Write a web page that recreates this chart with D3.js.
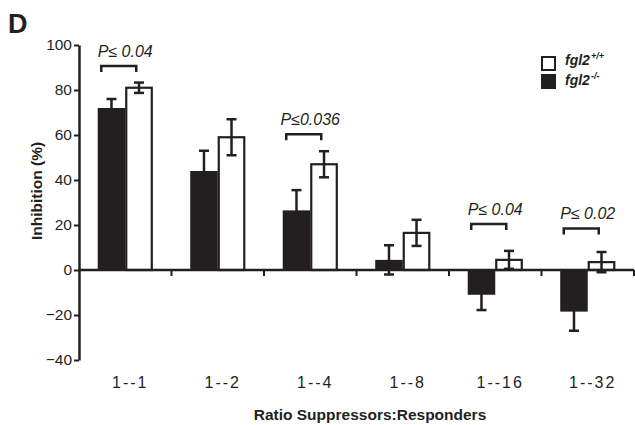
<!DOCTYPE html>
<html>
<head>
<meta charset="utf-8">
<script src="https://cdn.jsdelivr.net/npm/d3@7"></script>
<style>
  body { margin: 0; background: #fff; }
  text { font-family: "Liberation Sans", Arial, sans-serif; fill: #231f20; }
</style>
</head>
<body>
<script>
// data
const ratios = ['1--1', '1--2', '1--4', '1--8', '1--16', '1--32'];
const koMean = [72, 44, 26.5, 4.5, -11, -18.5];
const koErr = [4, 9, 9, 6.5, 6.8, 8.5];
const wtMean = [81, 59, 47, 16.5, 4.5, 3.5];
const wtErr = [2.3, 8, 5.8, 5.8, 4, 4.5];
const yTicks = [-40, -20, 0, 20, 40, 60, 80, 100];
const pGroups = ['1--1', '1--4', '1--16', '1--32'];
const pLevels = [90.7, 60.3, 20.4, 18.5];
const pLabels = ['P\u2264 0.04', 'P\u22640.036', 'P\u2264 0.04', 'P\u2264 0.02'];

const W = 635, H = 425;
const ink = '#231f20';

const svg = d3.select('body').append('svg')
  .attr('width', W)
  .attr('height', H);

const y = d3.scaleLinear().domain([-40, 100]).range([360, 45]);
const x = d3.scaleBand().domain(ratios).range([79, 634]);
const sub = d3.scaleBand().domain(['ko', 'wt']).range([0, x.bandwidth()]).paddingOuter(0.68);

const rows = ratios.map((r, i) => ({r, ko: koMean[i], koE: koErr[i], wt: wtMean[i], wtE: wtErr[i]}));

// bars
svg.append('g').selectAll('rect')
  .data(rows).enter().append('rect')
  .attr('x', d => x(d.r) + sub('ko'))
  .attr('y', d => y(Math.max(0, d.ko)))
  .attr('width', sub.bandwidth())
  .attr('height', d => Math.abs(y(d.ko) - y(0)))
  .attr('fill', ink);

svg.append('g').selectAll('rect')
  .data(rows).enter().append('rect')
  .attr('x', d => x(d.r) + sub('wt') + 1)
  .attr('y', d => y(Math.max(0, d.wt)))
  .attr('width', sub.bandwidth() - 2)
  .attr('height', d => Math.abs(y(d.wt) - y(0)))
  .attr('fill', '#fff')
  .attr('stroke', ink)
  .attr('stroke-width', 2.2);

// error bars
const errs = [];
rows.forEach(d => {
  errs.push({cx: x(d.r) + sub('ko') + sub.bandwidth() / 2, m: d.ko, e: d.koE});
  errs.push({cx: x(d.r) + sub('wt') + sub.bandwidth() / 2, m: d.wt, e: d.wtE});
});
const eg = svg.append('g').attr('stroke', ink).attr('stroke-width', 2.5);
eg.selectAll('.stem').data(errs).enter().append('line')
  .attr('x1', d => d.cx).attr('x2', d => d.cx)
  .attr('y1', d => y(d.m - d.e)).attr('y2', d => y(d.m + d.e));
eg.selectAll('.capHi').data(errs).enter().append('line')
  .attr('x1', d => d.cx - 5).attr('x2', d => d.cx + 5)
  .attr('y1', d => y(d.m + d.e)).attr('y2', d => y(d.m + d.e));
eg.selectAll('.capLo').data(errs).enter().append('line')
  .attr('x1', d => d.cx - 5).attr('x2', d => d.cx + 5)
  .attr('y1', d => y(d.m - d.e)).attr('y2', d => y(d.m - d.e));

// y axis
const yAxis = svg.append('g')
  .attr('transform', 'translate(79,0)')
  .call(d3.axisLeft(y).tickValues(yTicks).tickSize(5).tickSizeOuter(0).tickPadding(2));
yAxis.select('.domain').attr('stroke', ink).attr('stroke-width', 2.5);
yAxis.selectAll('.tick line').attr('stroke', ink).attr('stroke-width', 2);
yAxis.selectAll('.tick text')
  .style('font-family', '"Liberation Sans", Arial, sans-serif')
  .style('font-size', '15.5px')
  .attr('fill', ink);

// x axis at zero with ticks at group edges
const xAxis = svg.append('g').attr('stroke', ink);
xAxis.append('line')
  .attr('x1', 79).attr('x2', 634)
  .attr('y1', y(0)).attr('y2', y(0))
  .attr('stroke-width', 2.5);
xAxis.selectAll('.edge').data(ratios).enter().append('line')
  .attr('x1', d => x(d) + x.bandwidth()).attr('x2', d => x(d) + x.bandwidth())
  .attr('y1', y(0)).attr('y2', y(0) + 6)
  .attr('stroke-width', 2);

svg.append('g').selectAll('text')
  .data(ratios).enter().append('text')
  .attr('x', d => x(d) + x.bandwidth() / 2 + 5)
  .attr('y', 388)
  .attr('text-anchor', 'middle')
  .style('font-size', '16px')
  .style('letter-spacing', '2px')
  .text(d => d);

// significance brackets
const pg = svg.append('g');
pGroups.forEach((g, i) => {
  const c = x(g) + x.bandwidth() / 2;
  const yy = y(pLevels[i]);
  pg.append('path')
    .attr('d', `M${c - 24},${yy + 6}V${yy}H${c + 11}V${yy + 6}`)
    .attr('fill', 'none')
    .attr('stroke', ink)
    .attr('stroke-width', 2.5);
  pg.append('text')
    .attr('x', c)
    .attr('y', yy - 9)
    .attr('text-anchor', 'middle')
    .style('font-size', '16px')
    .style('font-style', 'italic')
    .text(pLabels[i]);
});

// legend
const legend = svg.append('g').attr('transform', 'translate(541,56)');
legend.append('rect').attr('x', 1).attr('y', 1).attr('width', 13).attr('height', 13)
  .attr('fill', '#fff').attr('stroke', ink).attr('stroke-width', 2);
legend.append('rect').attr('x', 0).attr('y', 18).attr('width', 15).attr('height', 15)
  .attr('fill', ink);
[['+/+', 9], ['-/-', 29]].forEach(([sup, by]) => {
  const t = legend.append('text')
    .attr('x', 24).attr('y', by)
    .style('font-size', '14px')
    .style('font-weight', 'bold')
    .style('font-style', 'italic');
  t.append('tspan').text('fgl2');
  t.append('tspan').attr('dx', 1).attr('dy', -6).style('font-size', '9px').text(sup);
});

// titles
svg.append('text')
  .attr('x', 8).attr('y', 33)
  .style('font-size', '27px')
  .style('font-weight', 'bold')
  .text('D');

svg.append('text')
  .attr('transform', 'translate(42,191) rotate(-90)')
  .attr('text-anchor', 'middle')
  .style('font-size', '15.5px')
  .style('font-weight', 'bold')
  .text('Inhibition (%)');

svg.append('text')
  .attr('x', 370).attr('y', 420)
  .attr('text-anchor', 'middle')
  .style('font-size', '15.5px')
  .style('font-weight', 'bold')
  .text('Ratio Suppressors:Responders');
</script>
</body>
</html>
